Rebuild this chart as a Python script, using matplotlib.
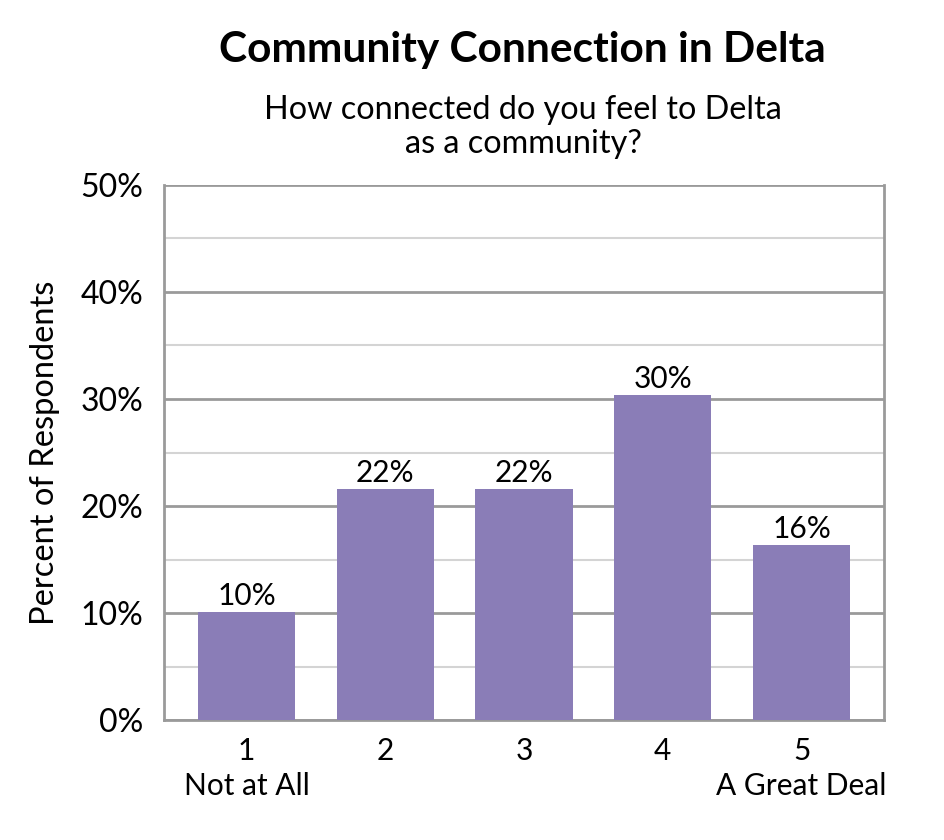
import matplotlib
matplotlib.use("Agg")
import matplotlib.pyplot as plt
from matplotlib.ticker import MultipleLocator, FuncFormatter

categories = ["1\nNot at All", "2", "3", "4", "5\nA Great Deal"]
values = [10.1, 21.6, 21.6, 30.4, 16.4]
labels = ["10%", "22%", "22%", "30%", "16%"]

plt.rcParams['font.family'] = ['Lato', 'DejaVu Sans']
fig = plt.figure(figsize=(9.45, 8.4), dpi=100)
ax = fig.add_axes([164/945, 1 - 720/840, 720/945, 535/840])

x = list(range(len(categories)))
ax.bar(x, values, width=0.70, color="#8A7DB7", zorder=3)
for xi, v, lab in zip(x, values, labels):
    ax.text(xi, v + 0.15, lab, ha="center", va="bottom", fontsize=21.5, zorder=4)

ax.set_xlim(-0.594, 4.594)
ax.set_ylim(0, 50)
ax.yaxis.set_major_locator(MultipleLocator(10))
ax.yaxis.set_minor_locator(MultipleLocator(5))
ax.yaxis.set_major_formatter(FuncFormatter(lambda v, p: f"{int(v)}%"))
ax.grid(which="major", axis="y", color="#9a9a9a", linewidth=2, zorder=1)
ax.grid(which="minor", axis="y", color="#d4d4d4", linewidth=1.5, zorder=1)
ax.set_xticks(x)
ax.set_xticklabels(categories, fontsize=21.5, linespacing=1.3)
ax.tick_params(axis="y", labelsize=23)
ax.tick_params(axis="both", length=0)
ax.tick_params(axis="x", pad=12)
ax.tick_params(axis="y", pad=15)
ax.tick_params(which="minor", length=0)
for s in ["left", "right", "top", "bottom"]:
    ax.spines[s].set_color("#9a9a9a")
    ax.spines[s].set_linewidth(2)
ax.spines["top"].set_visible(False)
ax.set_ylabel("Percent of Respondents", fontsize=23.5, va="center")
ax.yaxis.set_label_coords((45 - 164) / 720, (720 - 453) / 535)

fig.text(522/945, 1 - 50/840, "Community Connection in Delta", ha="center", va="center",
         fontsize=30.5, fontweight="bold")
fig.text(523/945, 1 - 127/840, "How connected do you feel to Delta\nas a community?", ha="center",
         va="center", fontsize=23.3, linespacing=1.17)

fig.savefig("out.png", dpi=100)
